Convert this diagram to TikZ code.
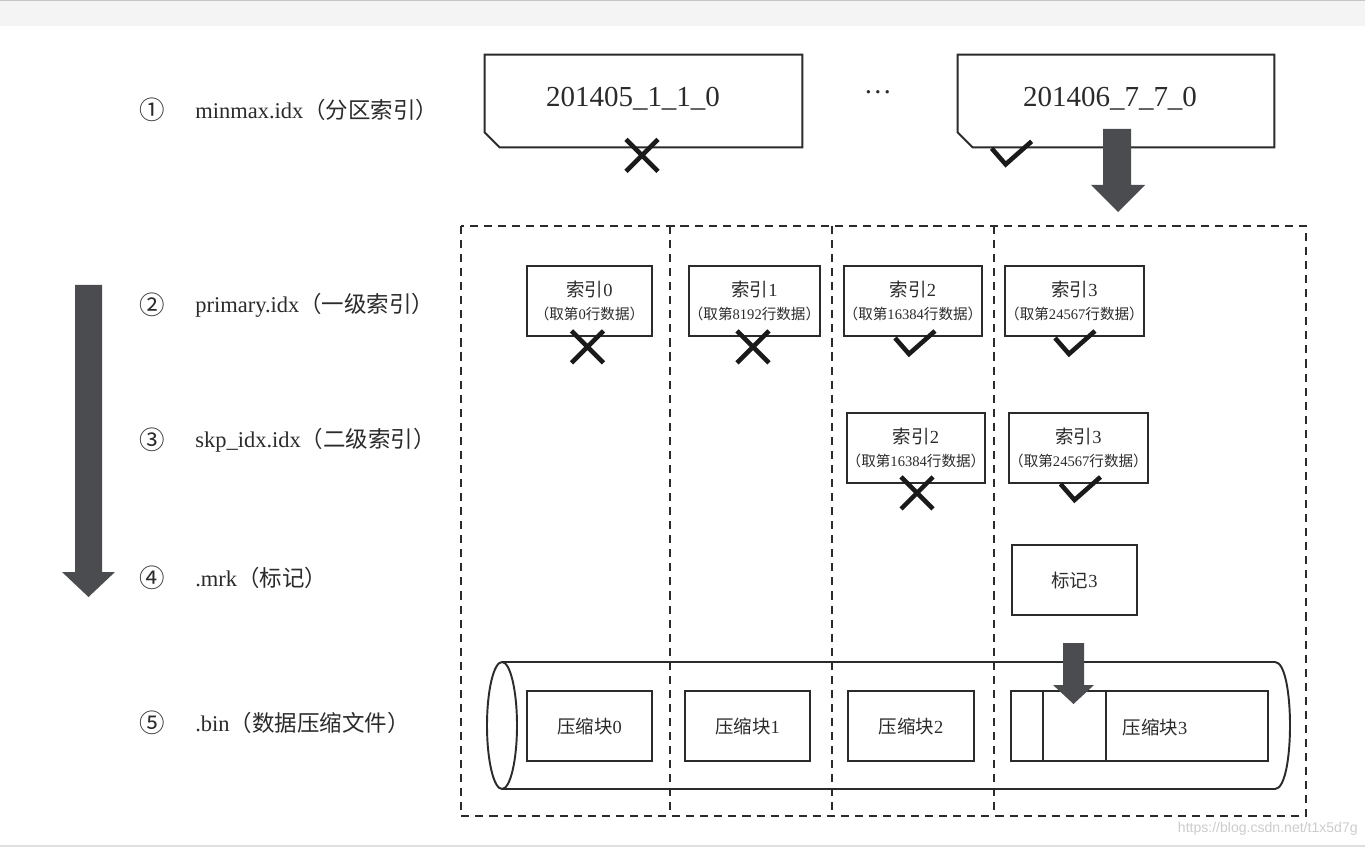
\documentclass[tikz,border=0pt]{standalone}
\usepackage{fontspec}
\setmainfont{Liberation Serif}
\setsansfont{Liberation Sans}
\newfontfamily\cjk{Noto Sans CJK SC}
\usetikzlibrary{calc}
\newcommand\zh[1]{{\cjk #1}}
\newcommand\pxu{0.02cm}
\definecolor{inkc}{HTML}{2B2B2B}
\definecolor{markc}{HTML}{1A1A1A}
\definecolor{arrowc}{HTML}{4B4C50}
\definecolor{bandc}{HTML}{F4F4F4}
\definecolor{wmc}{HTML}{CCCCCC}
\newcommand\idxt[2]{\zh{索引}#1\\[1pt]{\fontsize{8.3}{10}\selectfont\zh{（取第}#2\zh{行数据）}}}
\tikzset{
  ink/.style={draw=inkc, line width=1.1pt},
  frame/.style={draw=inkc, line width=1.1pt, dash pattern=on 4.6pt off 3.4pt},
  topbox/.style={minimum width=317*\pxu, minimum height=92*\pxu, inner sep=0pt},
  toptext/.style={text=inkc, inner sep=0pt, font=\fontsize{16.5}{18}\selectfont},
  idxbox/.style={ink, minimum width=125*\pxu, minimum height=70*\pxu, inner sep=0pt, align=center, text=inkc, font=\fontsize{10.5}{12}\selectfont},
  blk/.style={ink, minimum width=125*\pxu, minimum height=70*\pxu, inner sep=0pt, text=inkc, font=\fontsize{10.5}{12}\selectfont},
  lab/.style={text=inkc, inner sep=0pt, font=\fontsize{12.8}{15}\selectfont},
  num/.style={text=inkc, inner sep=0pt, font=\fontsize{14.5}{16}\selectfont},
  blockarrow/.style={fill=arrowc, draw=none},
  markline/.style={draw=markc, line width=2.6pt},
  xmark/.pic={\draw[markline] (-16,-16) -- (16,16) (-16,16) -- (16,-16);},
  vmark/.pic={\draw[markline] (-18,0) -- (-4,16) -- (22,-7);},
}
\newcommand\chambox[1]{\draw[ink] (#1.north west) -- (#1.north east) -- (#1.south east) -- ($(#1.south west)+(15,0)$) -- ($(#1.south west)+(0,-15)$) -- cycle;}
\begin{document}
\begin{tikzpicture}[x=0.02cm, y=-0.02cm]
\useasboundingbox (0,0) rectangle (1365,847);
\fill[white] (0,0) rectangle (1365,847);
% page chrome
\fill[bandc] (0,0) rectangle (1365,26);
\draw[gray!45, line width=0.6pt] (0,0.6) -- (1365,0.6);
\draw[gray!25, line width=0.6pt] (0,846) -- (1365,846);

% left labels
\node[num] (n1) at (152,110) {\zh{①}};
\node[lab, anchor=west] (l1) at (195,110) {minmax.idx\zh{（分区索引）}};
\node[num] (n2) at (152,305) {\zh{②}};
\node[lab, anchor=west] (l2) at (195,305) {primary.idx\zh{（一级索引）}};
\node[num] (n3) at (152,440) {\zh{③}};
\node[lab, anchor=west] (l3) at (195,440) {skp\_idx.idx\zh{（二级索引）}};
\node[num] (n4) at (152,578) {\zh{④}};
\node[lab, anchor=west] (l4) at (195,578) {.mrk\zh{（标记）}};
\node[num] (n5) at (152,723) {\zh{⑤}};
\node[lab, anchor=west] (l5) at (195,723) {.bin\zh{（数据压缩文件）}};

% left big arrow
\fill[blockarrow] (75,285) -- (102,285) -- (102,572) -- (115,572) -- (88.5,597) -- (62,572) -- (75,572) -- cycle;

% top partition boxes
\node[topbox] (tb1) at (643.5,101) {};
\chambox{tb1}
\node[toptext] (tb1t) at (633,99) {201405\_1\_1\_0};
\node[topbox, minimum width=316*\pxu] (tb2) at (1116,101) {};
\chambox{tb2}
\node[toptext] (tb2t) at (1110,99) {201406\_7\_7\_0};
\node[text=inkc, font=\fontsize{16}{18}\selectfont] (dots) at (878,92) {…};
\pic at ($(tb1.south)+(-1.5,8)$) {xmark};
\pic at ($(tb2.south west)+(52,1)$) {vmark};

% dashed frame and columns
\coordinate (fNW) at (461,226);
\coordinate (fSE) at (1306,816);
\draw[frame] (fNW) rectangle (fSE);
\draw[frame] (670,226) -- (670,816);
\draw[frame] (832,226) -- (832,816);
\draw[frame] (994,226) -- (994,816);

% top big arrow
\fill[blockarrow] (1103,129) -- (1131,129) -- (1131,185) -- (1145,185) -- (1118,212) -- (1091,185) -- (1103,185) -- cycle;

% primary index
\node[idxbox] (p0) at (589.5,301) {\idxt{0}{0}};
\node[idxbox] (p1) at (754.5,301) {\idxt{1}{8192}};
\node[idxbox] (p2) at (913,301) {\idxt{2}{16384}};
\node[idxbox] (p3) at (1074.5,301) {\idxt{3}{24567}};
\pic at ($(p0.south)+(-2,10)$) {xmark};
\pic at ($(p1.south)+(-1.5,10)$) {xmark};
\pic at ($(p2.south)+(0,1)$) {vmark};
\pic at ($(p3.south)+(-1.5,1)$) {vmark};

% skip index
\node[idxbox] (s2) at (916,448) {\idxt{2}{16384}};
\node[idxbox, minimum width=127*\pxu] (s3) at (1078.5,448) {\idxt{3}{24567}};
\pic at ($(s2.south)+(1,9)$) {xmark};
\pic at ($(s3.south)+(0,0)$) {vmark};

% mark
\node[blk] (m3) at (1074.5,580) {\zh{标记}3};

% data file cylinder
\draw[ink] (502,725.5) ellipse [x radius=0.3cm, y radius=1.27cm];
\draw[ink] (502,662) -- (1275,662) .. controls (1295,662) and (1295,789) .. (1275,789) -- (502,789);

% compressed blocks
\node[blk] (b0) at (589.5,726) {\zh{压缩块}0};
\node[blk] (b1) at (747.5,726) {\zh{压缩块}1};
\node[blk, minimum width=126*\pxu] (b2) at (911,726) {\zh{压缩块}2};
\node[blk, minimum width=257*\pxu] (b3) at (1139.5,726) {};
\node[text=inkc, inner sep=0pt, font=\fontsize{10.5}{12}\selectfont] (b3t) at (1155,727) {\zh{压缩块}3};
\draw[ink] ($(b3.north west)+(33,0)$) -- ($(b3.south west)+(33,0)$);
\draw[ink] ($(b3.north west)+(96,0)$) -- ($(b3.south west)+(96,0)$);

% small arrow into block 3
\fill[blockarrow] (1063,643) -- (1084,643) -- (1084,685) -- (1094,685) -- (1073.5,704) -- (1053,685) -- (1063,685) -- cycle;

% watermark
\node[anchor=east, text=wmc, inner sep=0pt, font=\sffamily\fontsize{8}{9}\selectfont] (wm) at (1358,829) {https://blog.csdn.net/t1x5d7g};
\end{tikzpicture}
\end{document}
